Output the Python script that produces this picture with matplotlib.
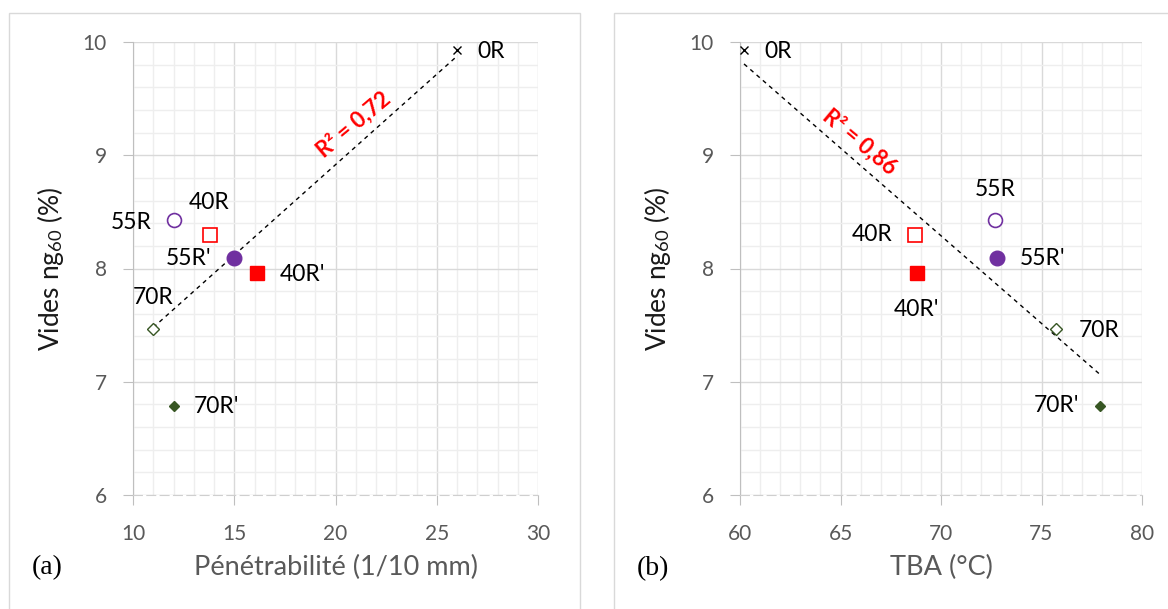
import matplotlib
matplotlib.use("Agg")
import matplotlib.pyplot as plt
from matplotlib.patches import Rectangle
from matplotlib.ticker import MultipleLocator
import numpy as np

plt.rcParams["font.family"] = ["Lato", "DejaVu Sans"]
plt.rcParams["mathtext.fontset"] = "custom"
plt.rcParams["mathtext.rm"] = "Lato"
plt.rcParams["mathtext.it"] = "Lato:italic"

# samples, same order in both panels
names = ["0R", "55R", "40R", "55R'", "40R'", "70R", "70R'"]
voids = [9.93, 8.43, 8.30, 8.09, 7.96, 7.47, 6.79]
penetration = [26.0, 12.0, 13.8, 15.0, 16.1, 11.0, 12.0]
tba = [60.2, 72.7, 68.7, 72.8, 68.8, 75.7, 77.9]

r2_a = "R² = 0,72"
r2_b = "R² = 0,86"

PURPLE = "#7030a0"
RED = "#ff0000"
GREEN = "#375623"

# marker styles per sample
STYLES = {
    "0R": dict(marker="x", color="black", ms=5.5, mew=1.0),
    "55R": dict(marker="o", mfc="white", mec=PURPLE, ms=10, mew=1.2),
    "40R": dict(marker="s", mfc="white", mec=RED, ms=10, mew=1.2),
    "55R'": dict(marker="o", mfc=PURPLE, mec=PURPLE, ms=10.5),
    "40R'": dict(marker="s", mfc=RED, mec=RED, ms=10.5),
    "70R": dict(marker="D", mfc="white", mec=GREEN, ms=6.5, mew=1.0),
    "70R'": dict(marker="D", mfc=GREEN, mec=GREEN, ms=5),
}

# label positions (x, y, ha)
LABELS_A = {
    "0R": (27.0, 9.92, "left"),
    "55R": (10.9, 8.41, "right"),
    "40R": (13.76, 8.58, "center"),
    "55R'": (13.85, 8.09, "right"),
    "40R'": (17.25, 7.95, "left"),
    "70R": (11.0, 7.74, "center"),
    "70R'": (13.0, 6.78, "left"),
}
LABELS_B = {
    "0R": (61.2, 9.92, "left"),
    "55R": (72.7, 8.70, "center"),
    "40R": (67.6, 8.30, "right"),
    "55R'": (73.9, 8.09, "left"),
    "40R'": (68.8, 7.64, "center"),
    "70R": (76.85, 7.45, "left"),
    "70R'": (76.9, 6.79, "right"),
}


def style_axes(ax, xlim, xlabel):
    ax.set_xlim(*xlim)
    ax.set_ylim(6, 10)
    ax.xaxis.set_major_locator(MultipleLocator(5))
    ax.xaxis.set_minor_locator(MultipleLocator(1))
    ax.yaxis.set_major_locator(MultipleLocator(1))
    ax.yaxis.set_minor_locator(MultipleLocator(0.2))
    ax.grid(which="major", color="#d9d9d9", lw=1.0)
    ax.grid(which="minor", color="#eeeeee", lw=1.0)
    ax.set_axisbelow(True)
    for side in ("top", "right"):
        ax.spines[side].set_visible(False)
    ax.spines["left"].set_color("#bfbfbf")
    ax.spines["bottom"].set_color("#cfcfcf")
    ax.spines["bottom"].set_linestyle((0, (8, 4)))
    ax.tick_params(which="major", direction="out", length=7, color="#bfbfbf",
                   labelcolor="#595959", labelsize=15)
    ax.tick_params(axis="y", pad=12)
    ax.tick_params(axis="x", pad=14)
    ax.tick_params(which="minor", length=0)
    ax.set_xlabel(xlabel, fontsize=19.5, color="#595959", labelpad=8)
    ax.set_ylabel("Vides ng$_{60}$ (%)", fontsize=19, color="#1a1a1a", labelpad=12)


def draw_panel(ax, xs, labels, r2_text, r2_pos, r2_rot):
    fit = np.polyfit(xs, voids, 1)
    xline = np.array([min(xs), max(xs)])
    ax.plot(xline, np.polyval(fit, xline), color="black", lw=1.0,
            ls=(0, (3, 3)), zorder=2)
    for name, x, y in zip(names, xs, voids):
        ax.plot([x], [y], ls="none", zorder=3, **STYLES[name])
        lx, ly, ha = labels[name]
        ax.text(lx, ly, name, ha=ha, va="center", fontsize=16.5, color="black")
    ax.text(r2_pos[0], r2_pos[1], r2_text, color=RED, fontsize=16,
            fontweight="bold", rotation=r2_rot, ha="center", va="center",
            rotation_mode="anchor")


fig = plt.figure(figsize=(11.68, 6.09), dpi=100)

# panel frames
fig.patches.append(Rectangle((9 / 1168, -0.1), 571 / 1168, 1.1 - 13 / 609,
                             transform=fig.transFigure, fill=False,
                             ec="#d9d9d9", lw=1.0))
fig.patches.append(Rectangle((614 / 1168, -0.1), 0.6, 1.1 - 13 / 609,
                             transform=fig.transFigure, fill=False,
                             ec="#d9d9d9", lw=1.0))

ax1 = fig.add_axes([133 / 1168, 1 - 495 / 609, 405 / 1168, 453 / 609])
ax2 = fig.add_axes([740 / 1168, 1 - 495 / 609, 402 / 1168, 453 / 609])

style_axes(ax1, (10, 30), "Pénétrabilité (1/10 mm)")
style_axes(ax2, (60, 80), "TBA (°C)")

draw_panel(ax1, penetration, LABELS_A, r2_a, (20.9, 9.27), 40)
draw_panel(ax2, tba, LABELS_B, r2_b, (65.97, 9.12), -40)

fig.text(47 / 1168, 1 - 568 / 609, "(a)", family="Liberation Serif",
         fontsize=20, ha="center", va="center")
fig.text(653 / 1168, 1 - 569 / 609, "(b)", family="Liberation Serif",
         fontsize=20, ha="center", va="center")

fig.savefig("out.png", dpi=100)
